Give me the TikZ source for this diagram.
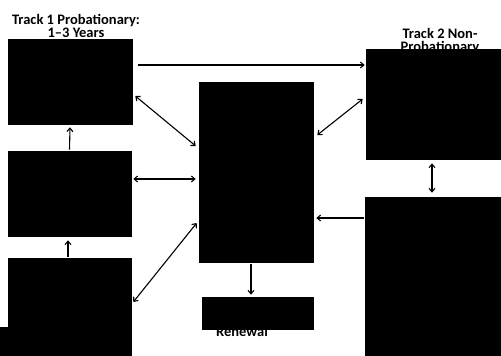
\documentclass[tikz,border=0pt]{standalone}
\usepackage{fontspec}
\setmainfont{Carlito}
\usetikzlibrary{arrows.meta}
\begin{document}
\begin{tikzpicture}[x=1pt,y=-1pt,
  blk/.style={draw=black,fill=black,inner sep=0pt,line width=0.6pt},
  conn/.style={line width=1.1pt,arrows={-Straight Barb[length=3.5pt,width=6pt]}},
  dconn/.style={line width=1.1pt,arrows={Straight Barb[length=3.5pt,width=6pt]-Straight Barb[length=3.5pt,width=6pt]}},
  ttl/.style={font=\bfseries\fontsize{14.5}{13}\selectfont,align=center,inner sep=0pt}]
\useasboundingbox (0,0) rectangle (501,356);
\clip (0,0) rectangle (501,356);
% titles (drawn before boxes, which cover them partly)
\node[ttl] (t1) at (76,26) {Track 1 Probationary:\\1--3 Years};
\node[ttl] (t2) at (440,41.5) {Track 2 Non-\\Probationary};
\node[font=\bfseries\fontsize{14.5}{14}\selectfont,inner sep=0pt,anchor=base] (rtxt) at (242,336) {Renewal};
% boxes
\node[blk,minimum width=124pt,minimum height=85pt] (A) at (70,81.5) {};
\node[blk,minimum width=123pt,minimum height=85pt] (B) at (69.5,193.5) {};
\node[blk,minimum width=123pt,minimum height=98pt] (C) at (69.5,307) {};
\node[blk,minimum width=8pt,minimum height=29pt] (Cx) at (4,341.5) {};
\node[blk,minimum width=114pt,minimum height=180pt] (D) at (256,172) {};
\node[blk,minimum width=111pt,minimum height=32pt] (E) at (257.5,313) {};
\node[blk,minimum width=135pt,minimum height=110pt] (F) at (433.5,104) {};
\node[blk,minimum width=136pt,minimum height=159pt] (G) at (433,276.5) {};
% connectors
\draw[conn] ([xshift=6pt,yshift=16.5pt]A.east) -- ([xshift=-1pt,yshift=39pt]F.west);
\draw[dconn] ([xshift=3pt,yshift=-14.5pt]A.east) -- ([xshift=-3pt,yshift=26pt]D.west);
\draw[dconn] ([xshift=2pt,yshift=14.5pt]B.east) -- ([xshift=-3pt,yshift=-7pt]D.west);
\draw[dconn] ([xshift=2pt,yshift=5pt]C.east) -- ([xshift=-2pt,yshift=-51pt]D.west);
\draw[dconn] ([xshift=4pt,yshift=37pt]D.east) -- ([xshift=-3pt,yshift=5pt]F.west);
\draw[conn] ([xshift=-1pt,yshift=58.5pt]G.west) -- ([xshift=3pt,yshift=-46pt]D.east);
\draw[conn] ([xshift=-5pt,yshift=-2pt]D.south) -- ([xshift=-6.5pt,yshift=2pt]E.north);
\draw[conn] ([yshift=1pt]B.north) -- ([yshift=-3pt]A.south);
\draw[conn] ([xshift=-1.5pt,yshift=1pt]C.north) -- ([xshift=-1.5pt,yshift=-4pt]B.south);
\draw[dconn] ([xshift=-1.5pt,yshift=-4pt]F.south) -- ([xshift=-1pt,yshift=4pt]G.north);
\end{tikzpicture}
\end{document}
